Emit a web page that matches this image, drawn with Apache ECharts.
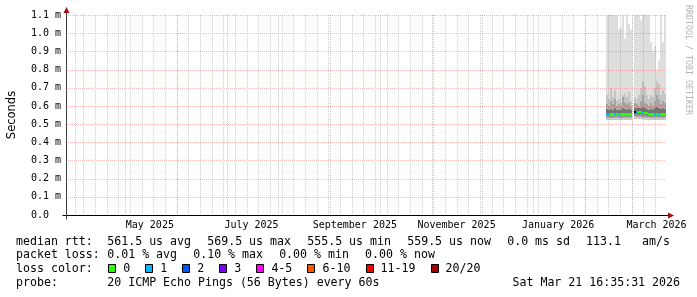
<!DOCTYPE html>
<html><head><meta charset="utf-8">
<script src="https://cdn.jsdelivr.net/npm/echarts@6/dist/echarts.min.js"></script>
<style>html,body{margin:0;padding:0;background:#fff}#c{width:697px;height:297px}</style>
</head><body><div id="c"></div>
<script>
// ---------- data ----------
const rangeEnd = '2026-03-21T16:35:31';
const rangeDays = 360;
const monthStarts = ['2025-04-01','2025-05-01','2025-06-01','2025-07-01','2025-08-01','2025-09-01',
  '2025-10-01','2025-11-01','2025-12-01','2026-01-01','2026-02-01','2026-03-01'];
const firstSunday = '2025-04-06';
const monthLabels = ['May 2025','July 2025','September 2025','November 2025','January 2026','March 2026'];
const monthLabelDates = ['2025-05-16','2025-07-16','2025-09-16','2025-11-16','2026-01-16','2026-03-16'];
const yTicks = [0.1,0.2,0.3,0.4,0.5,0.6,0.7,0.8,0.9,1.0,1.1];

const binStart = '2026-02-13T16:35:31';
const binDays = 1.2;
// smoke levels (ms) per bin, null = no data
const minV = [0.522,0.523,0.521,0.522,0.522,0.523,0.522,0.521,0.522,0.522,0.523,0.522,0.522,null,0.528,0.528,0.527,0.526,0.525,0.524,0.523,0.523,0.522,0.522,0.523,0.523,0.522,0.523,0.522,0.523];
const p5V  = [0.535,0.536,0.534,0.535,0.535,0.536,0.535,0.534,0.535,0.535,0.536,0.535,0.535,null,0.542,0.542,0.541,0.540,0.538,0.537,0.536,0.536,0.535,0.535,0.536,0.536,0.535,0.536,0.535,0.536];
const p20V = [0.548,0.548,0.547,0.548,0.548,0.549,0.548,0.547,0.548,0.548,0.549,0.548,0.548,null,0.556,0.556,0.555,0.554,0.552,0.551,0.550,0.550,0.549,0.549,0.550,0.550,0.549,0.550,0.549,0.550];
const p80V = [0.585,0.580,0.585,0.580,0.590,0.580,0.580,0.578,0.590,0.585,0.580,0.583,0.580,null,0.590,0.590,0.588,0.590,0.595,0.588,0.585,0.580,0.585,0.582,0.590,0.595,0.590,0.585,0.590,0.585];
const p90V = [0.61,0.60,0.63,0.61,0.64,0.60,0.61,0.60,0.65,0.62,0.61,0.62,0.60,null,0.62,0.61,0.60,0.63,0.66,0.62,0.61,0.60,0.62,0.60,0.63,0.66,0.64,0.61,0.63,0.62];
const p95V = [0.66,0.64,0.70,0.65,0.69,0.63,0.64,0.62,0.66,0.67,0.65,0.68,0.63,null,0.65,0.64,0.66,0.70,0.74,0.71,0.66,0.64,0.66,0.65,0.70,0.74,0.72,0.66,0.69,0.67];
const maxV = [1.6,1.4,1.8,1.5,1.7,1.3,1.02,1.03,1.4,0.97,1.6,1.05,1.02,null,1.5,1.7,1.4,1.07,1.9,1.5,1.6,1.3,0.95,0.90,0.93,0.79,0.85,1.4,0.95,1.5];
const medianV = [0.556,0.556,0.555,0.556,0.556,0.557,0.556,0.555,0.556,0.556,0.557,0.556,0.556,null,0.566,0.566,0.565,0.564,0.562,0.560,0.559,0.558,0.557,0.557,0.558,0.558,0.557,0.558,0.557,0.558];
const lossV = [1,1,0,0,1,0,1,0,0,0,0,0,0,null,null,1,0,0,1,0,0,0,0,0,1,0,1,0,0,0];

const lossNames  = ['0','1','2','3','4-5','6-10','11-19','20/20'];
const lossColors = ['#26ff00','#00b8ff','#0059ff','#7e00ff','#ff00ff','#ff5500','#ff0000','#a10000'];
const lossMaxCount = [0,1,2,3,5,10,19,20];

// legend lines, split into the separate legend items
const legendItems = [
  ['median rtt:  ', '561.5 us avg  ', '569.5 us max  ', '555.5 us min  ', '559.5 us now  ', '0.0 ms sd  ', '113.1   am/s'],
  ['packet loss: ', '0.01 % avg  ', '0.10 % max  ', '0.00 % min  ', '0.00 % now'],
  ['loss color:  '],
  ['probe:       ', '20 ICMP Echo Pings (56 Bytes) every 60s']
];
const dateText = 'Sat Mar 21 16:35:31 2026';

// ---------- helpers ----------
const DAY = 86400000;
const toMs = s => Date.parse(s.length === 10 ? s + 'T00:00:00Z' : s + 'Z');
const endMs = toMs(rangeEnd);
const startMs = endMs - rangeDays * DAY;
const weekMs = [];
for (let t = toMs(firstSunday); t < endMs; t += 7 * DAY) weekMs.push(t);
const monthMs = monthStarts.map(toMs);
const labelMs = monthLabelDates.map(toMs);

const bandColors = ['#c8c8c8','#929292','#747474','#a4a4a4','#c4c4c4','#dedede'];
const b0 = toMs(binStart), stepMs = binDays * DAY;
const smokeRows = [];
medianV.forEach((m, i) => {
  if (m === null) return;
  smokeRows.push([b0 + (i + 0.5) * stepMs, minV[i], p5V[i], p20V[i], p80V[i], p90V[i], p95V[i], maxV[i], m,
    lossV[i] === null ? -1 : lossV[i]]);
});
function lossColor(c) {
  if (c < 0) return '#000000';
  for (let k = 0; k < lossMaxCount.length; k++) if (c <= lossMaxCount[k]) return lossColors[k];
  return lossColors[lossColors.length - 1];
}

const MONO = 'DejaVu Sans Mono';
const chart = echarts.init(document.getElementById('c'));
const MAJOR = 'rgba(240,90,90,0.42)';
const MINOR = 'rgba(110,110,110,0.32)';
const gridLine = (color) => ({ stroke: color, lineWidth: 1, lineDash: [1, 1] });

chart.setOption({
  animation: false,
  backgroundColor: '#ffffff',
  grid: { left: 66, top: 15, width: 600, height: 200, containLabel: false },
  xAxis: {
    type: 'value', min: startMs, max: endMs,
    axisLine: { show: true, lineStyle: { color: '#000', width: 1 } },
    axisTick: { show: false },
    splitLine: { show: false },
    axisLabel: {
      customValues: labelMs,
      formatter: v => { let bi = 0; labelMs.forEach((m, i) => { if (Math.abs(m - v) < Math.abs(labelMs[bi] - v)) bi = i; }); return monthLabels[bi]; },
      fontFamily: MONO, fontSize: 10, color: '#000', margin: 5, hideOverlap: false
    }
  },
  yAxis: {
    type: 'value', min: 0, max: 1.1, interval: 0.1,
    axisLine: { show: true, lineStyle: { color: '#404040', width: 1 } },
    axisTick: { show: false },
    splitLine: { show: false },
    axisLabel: {
      formatter: v => v === 0 ? '0.0' : v.toFixed(1) + ' m',
      fontFamily: MONO, fontSize: 10, color: '#000', align: 'left', margin: 35
    }
  },
  series: [
    {
      type: 'custom', z: 2, silent: true,
      data: smokeRows,
      renderItem(params, api) {
        const cs = params.coordSys;
        const t = api.value(0);
        const x0 = Math.round(api.coord([t - stepMs / 2, 0])[0]);
        const x1 = Math.round(api.coord([t + stepMs / 2, 0])[0]);
        const lv = [1, 2, 3, 4, 5, 6, 7].map(d => api.value(d));
        const children = [];
        for (let k = 0; k < 6; k++) {
          const yb = api.coord([t, lv[k]])[1], yt = api.coord([t, lv[k + 1]])[1];
          const r = echarts.graphic.clipRectByRect({ x: x0, y: yt, width: x1 - x0, height: yb - yt },
            { x: cs.x, y: cs.y, width: cs.width, height: cs.height });
          if (r) children.push({ type: 'rect', shape: r, style: { fill: bandColors[k] } });
        }
        const ym = api.coord([t, api.value(8)])[1];
        children.push({ type: 'rect', shape: { x: x0, y: Math.round(ym) - 1, width: x1 - x0, height: 2 },
          style: { fill: lossColor(api.value(9)) } });
        return { type: 'group', children };
      }
    },
    {
      type: 'custom', z: 3, silent: true,
      data: weekMs.map(t => [t, 0]),
      renderItem(params, api) {
        const cs = params.coordSys;
        const x = Math.round(api.coord([api.value(0), 0])[0]) + 0.5;
        if (x <= cs.x + 1 || x > cs.x + cs.width) return null;
        return { type: 'line', shape: { x1: x, y1: cs.y, x2: x, y2: cs.y + cs.height }, style: gridLine(MINOR) };
      }
    },
    {
      type: 'custom', z: 4, silent: true,
      data: monthMs.map(t => [t, 0]),
      renderItem(params, api) {
        const cs = params.coordSys;
        const x = Math.round(api.coord([api.value(0), 0])[0]) + 0.5;
        return { type: 'line', shape: { x1: x, y1: cs.y, x2: x, y2: cs.y + cs.height }, style: gridLine(MAJOR) };
      }
    },
    {
      type: 'custom', z: 4, silent: true,
      data: yTicks.map(v => [startMs, v]),
      renderItem(params, api) {
        const cs = params.coordSys;
        const y = Math.round(api.coord([api.value(0), api.value(1)])[1]) + 0.5;
        return { type: 'line', shape: { x1: cs.x, y1: y, x2: cs.x + cs.width, y2: y }, style: gridLine(MAJOR) };
      }
    }
  ]
});

// ---------- decorations: arrows, legend, titles ----------
const pEnd = chart.convertToPixel({ gridIndex: 0 }, [endMs, 0]);
const pTop = chart.convertToPixel({ gridIndex: 0 }, [startMs, 1.1]);
const ax = Math.round(pTop[0]) + 0.5, ay = Math.round(pEnd[1]) + 0.5;
const g = [];
g.push({ type: 'line', shape: { x1: ax - 4, y1: ay, x2: pEnd[0] + 3, y2: ay }, style: { stroke: '#000', lineWidth: 1 }, z: 10 });
g.push({ type: 'line', shape: { x1: ax, y1: ay + 4, x2: ax, y2: pTop[1] - 3 }, style: { stroke: '#404040', lineWidth: 1 }, z: 10 });
g.push({ type: 'polygon', shape: { points: [[pEnd[0] + 2, ay - 3], [pEnd[0] + 8, ay], [pEnd[0] + 2, ay + 3]] }, style: { fill: '#a01010' }, z: 11 });
g.push({ type: 'polygon', shape: { points: [[ax - 3, pTop[1] - 2], [ax, pTop[1] - 8], [ax + 3, pTop[1] - 2]] }, style: { fill: '#a01010' }, z: 11 });

const lineY = [241.6, 255.3, 269.0, 282.7];
const CW = 7.02, ITEM_GAP = 1.7;
const lf = { fontFamily: MONO, fontSize: 11.6, fill: '#000', verticalAlign: 'middle', textAlign: 'left' };
legendItems.forEach((items, li) => {
  let x = 16;
  items.forEach((s, k) => {
    g.push({ type: 'text', x: x, y: lineY[li], style: Object.assign({ text: s }, lf), z: 10 });
    x += CW * s.length + (k >= 1 ? ITEM_GAP : 0);
  });
});
g.push({ type: 'text', x: 680, y: lineY[3], style: Object.assign({}, lf, { text: dateText, textAlign: 'right' }), z: 10 });
let bx = 108.3;
lossNames.forEach((n, i) => {
  g.push({ type: 'rect', shape: { x: Math.round(bx) + 0.5, y: 264.5, width: 7, height: 8 }, style: { fill: lossColors[i], stroke: '#000', lineWidth: 1 }, z: 10 });
  g.push({ type: 'text', x: bx + 15, y: lineY[2], style: Object.assign({ text: n }, lf), z: 10 });
  bx += 15 + CW * n.length + 15;
});
g.push({ type: 'text', x: 12, y: 115, rotation: Math.PI / 2,
  style: { text: 'Seconds', fontFamily: 'DejaVu Sans', fontSize: 11.5, fill: '#000', textAlign: 'center', verticalAlign: 'middle' }, z: 10 });
g.push({ type: 'text', x: 688.5, y: 60, rotation: -Math.PI / 2,
  style: { text: 'RRDTOOL / TOBI OETIKER', fontFamily: MONO, fontSize: 8.3, fill: '#b4b4b4', textAlign: 'center', verticalAlign: 'middle' }, z: 10 });
chart.setOption({ graphic: { elements: g } });
</script>
</body></html>
